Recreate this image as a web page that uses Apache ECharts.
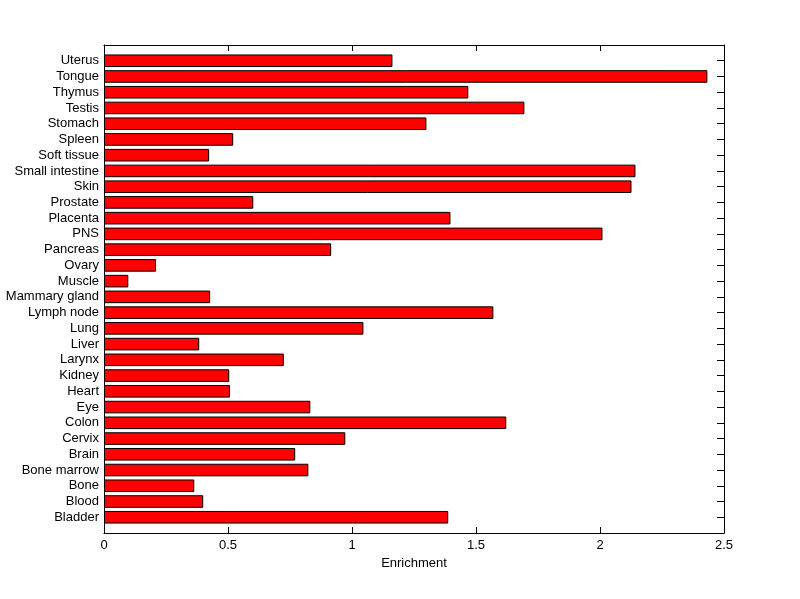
<!DOCTYPE html>
<html>
<head>
<meta charset="utf-8">
<script src="https://cdn.jsdelivr.net/npm/echarts@6/dist/echarts.min.js"></script>
<style>html,body{margin:0;padding:0;background:#fff;}#c{width:800px;height:599px;}</style>
</head>
<body>
<div id="c"></div>
<script>
// categories from bottom to top
var categories = ['Bladder','Blood','Bone','Bone marrow','Brain','Cervix','Colon','Eye','Heart','Kidney','Larynx','Liver','Lung','Lymph node','Mammary gland','Muscle','Ovary','Pancreas','PNS','Placenta','Prostate','Skin','Small intestine','Soft tissue','Spleen','Stomach','Testis','Thymus','Tongue','Uterus'];
var enrichment = [1.388,0.400,0.364,0.824,0.771,0.973,1.622,0.832,0.508,0.505,0.725,0.384,1.046,1.570,0.428,0.098,0.210,0.916,2.010,1.397,0.602,2.127,2.143,0.424,0.521,1.300,1.695,1.469,2.433,1.163];
var xTicks = [0, 0.5, 1, 1.5, 2, 2.5];

var yCats = [''].concat(categories).concat(['']);
var yVals = [null].concat(enrichment).concat([null]);

var font = 'Liberation Sans, Arial, sans-serif';
var chart = echarts.init(document.getElementById('c'));
chart.setOption({
  animation: false,
  grid: {left: 104, top: 45, width: 620, height: 488, show: false},
  xAxis: [{
    type: 'value', min: xTicks[0], max: xTicks[xTicks.length-1], interval: 0.5,
    position: 'bottom',
    name: 'Enrichment', nameLocation: 'middle', nameGap: 23,
    nameTextStyle: {color: '#000', fontSize: 13, fontFamily: font},
    axisLine: {show: true, onZero: false, lineStyle: {color: '#000', width: 1}},
    axisTick: {show: true, inside: true, length: 6, lineStyle: {color: '#000'}},
    axisLabel: {color: '#000', fontSize: 13, fontFamily: font, margin: 6},
    splitLine: {show: false}
  }, {
    type: 'value', min: xTicks[0], max: xTicks[xTicks.length-1], interval: 0.5,
    position: 'top',
    axisLine: {show: true, onZero: false, lineStyle: {color: '#000', width: 1}},
    axisTick: {show: true, inside: true, length: 6, lineStyle: {color: '#000'}},
    axisLabel: {show: false},
    splitLine: {show: false}
  }],
  yAxis: [{
    type: 'category', data: yCats, boundaryGap: false, position: 'left',
    axisLine: {show: true, onZero: false, lineStyle: {color: '#000', width: 1}},
    axisTick: {show: false},
    axisLabel: {color: '#000', fontSize: 13, fontFamily: font, margin: 5, interval: 0},
    splitLine: {show: false}
  }, {
    type: 'category', data: yCats, boundaryGap: false, position: 'right',
    axisLine: {show: true, onZero: false, lineStyle: {color: '#000', width: 1}},
    axisTick: {show: true, inside: true, length: 7, interval: 0, lineStyle: {color: '#000'}},
    axisLabel: {show: false},
    splitLine: {show: false}
  }],
  series: [{
    type: 'bar', xAxisIndex: 0, yAxisIndex: 0,
    data: yVals, barWidth: '80%',
    itemStyle: {color: '#ff0000', borderColor: '#000', borderWidth: 1}
  }]
});
</script>
</body>
</html>
